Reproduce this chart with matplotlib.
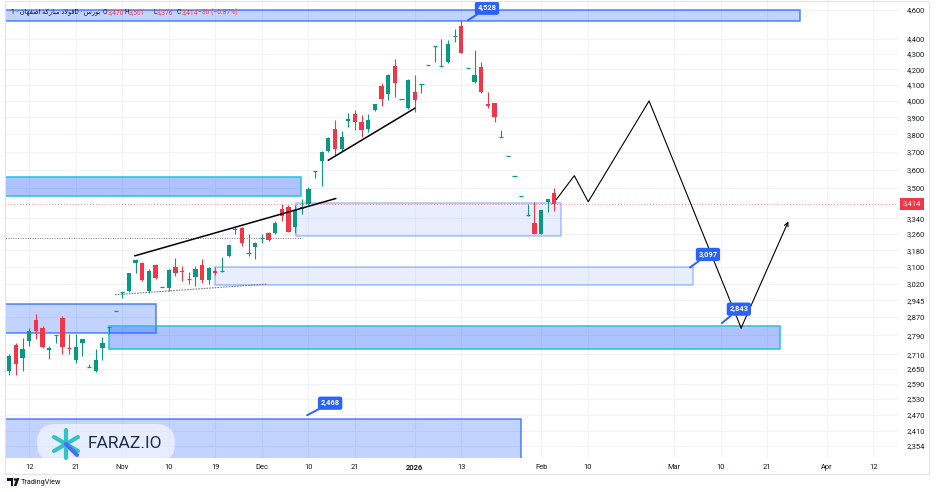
import matplotlib
matplotlib.use('Agg')
import matplotlib.pyplot as plt
import matplotlib.transforms as mtransforms
from matplotlib.patches import Rectangle, FancyBboxPatch, Polygon, Circle
from matplotlib.ticker import FixedLocator, NullLocator, NullFormatter

# daily candles (bar index = position on the time axis)
opens = [2640, 2751, 2696, 2765, 2858, 2822, 2730, 2793, 2866, 2738,
         2688, 2759, 2659, 2643, 2738, 2827, 2897, 2982, 2987, 3118,
         3118, 2987, 3110, 3005, 3001, 3100, 3082, 3042, 3051, 3108,
         3038, 3081, 3080, 3151, 3279, 3289, 3168, 3194, 3242, 3264,
         3264, 3386, 3401, 3294, 3386, 3412, 3594, 3649, 3701, 3833,
         3717, 3876, 3922, 3870, 3833, 3942, 4090, 4041, 4221, 4009,
         3955, 4053, 4103, 4228, 4350, 4219, 4247, 4420, 4488, 4210,
         4117, 4212, 3980, 3986, 3787, 3674, 3566, 3459, 3356, 3318,
         3259, 3426, 3470]
highs = [2713, 2759, 2780, 2822, 2884, 2831, 2747, 2793, 2875, 2797,
         2797, 2776, 2672, 2734, 2784, 2827, 2897, 2982, 3070, 3137,
         3122, 3089, 3113, 3005, 3089, 3142, 3103, 3075, 3103, 3137,
         3098, 3098, 3148, 3209, 3294, 3294, 3259, 3219, 3259, 3269,
         3324, 3412, 3407, 3407, 3438, 3502, 3594, 3701, 3786, 3886,
         3821, 3928, 3946, 3916, 3922, 3982, 4113, 4169, 4266, 4009,
         4138, 4164, 4103, 4228, 4350, 4402, 4395, 4469, 4528, 4210,
         4326, 4247, 4053, 3986, 3827, 3674, 3566, 3459, 3412, 3426,
         3381, 3443, 3501]
lows = [2627, 2627, 2643, 2747, 2776, 2738, 2692, 2759, 2713, 2713,
        2676, 2705, 2659, 2639, 2688, 2797, 2897, 2955, 2982, 3070,
        3033, 2978, 3042, 3005, 2987, 3056, 3033, 3019, 3010, 3024,
        3019, 3061, 3077, 3147, 3259, 3199, 3151, 3137, 3214, 3224,
        3259, 3324, 3269, 3264, 3360, 3407, 3556, 3512, 3696, 3683,
        3706, 3844, 3827, 3786, 3811, 3940, 3972, 4007, 4022, 4009,
        3952, 3932, 4047, 4228, 4247, 4219, 4243, 4380, 4304, 4210,
        4114, 4047, 3959, 3872, 3787, 3674, 3566, 3459, 3353, 3259,
        3259, 3374, 3376]
closes = [2703, 2672, 2734, 2811, 2810, 2742, 2738, 2793, 2742, 2734,
          2742, 2776, 2659, 2688, 2759, 2827, 2897, 2982, 3070, 3134,
          3038, 3080, 3047, 3005, 3086, 3070, 3077, 3038, 3089, 3038,
          3094, 3070, 3084, 3204, 3284, 3214, 3170, 3214, 3244, 3231,
          3314, 3351, 3270, 3382, 3398, 3496, 3594, 3696, 3780, 3717,
          3786, 3892, 3870, 3823, 3886, 3982, 4013, 4160, 4111, 4009,
          4130, 4007, 4103, 4228, 4350, 4221, 4367, 4420, 4304, 4210,
          4164, 4053, 3966, 3900, 3787, 3674, 3566, 3459, 3356, 3259,
          3381, 3443, 3414]

price_ticks = [4600, 4400, 4300, 4200, 4100, 4000, 3900, 3800, 3700, 3600, 3500,
               3340, 3260, 3180, 3100, 3020, 2945, 2870, 2790, 2710, 2650, 2590,
               2530, 2470, 2410, 2354]
last_price = 3414

date_pos = [3, 10, 17, 24, 31, 38, 45, 52, 61, 68, 80, 87, 100, 107, 114, 123, 130]
date_labels = ['12', '21', 'Nov', '10', '19', 'Dec', '10', '21', '2026', '13',
               'Feb', '10', 'Mar', '10', '21', 'Apr', '12']

# zones: bar from, bar to, low, high, style
zones = [
    (-1, 119.0, 4523, 4600, 'blue'),
    (-1, 43.9, 3454, 3561, 'cyan'),
    (43.1, 83.0, 3248, 3418, 'light'),
    (31.0, 102.9, 3015, 3097, 'light'),
    (-1, 22.1, 2801, 2928, 'blue'),
    (15.0, 116.0, 2734, 2831, 'cyan'),
    (-1, 77.0, 2250, 2453, 'blue'),
]

# price callouts: text, bar, price, offset px (right, up)
callouts = [('4,528', 69.0, 4528, 19, 12),
            ('3,097', 102.4, 3097, 18, 13),
            ('2,843', 107.2, 2843, 17, 14),
            ('2,468', 44.8, 2468, 23, 12)]

trend1_x, trend1_y = [18.9, 49.1], [3153, 3443]
trend2_x, trend2_y = [48.0, 61.0], [3652, 3955]
support_x, support_y = [15.9, 38.8], [2970, 3019]
level_x, level_y = [-1, 43.9], [3238, 3238]
path_x = [82.3, 85.0, 87.1, 96.25, 110.1, 117.2]
path_y = [3438, 3566, 3426, 4000, 2822, 3324]

UP, DOWN, TVBLUE, INK = '#089981', '#F23645', '#2962FF', '#131722'
W, H = 936, 492
plt.rcParams['font.family'] = ['Roboto', 'DejaVu Sans']

fig = plt.figure(figsize=(W / 100, H / 100), dpi=100)
fig.patch.set_facecolor('white')
ax = fig.add_axes([5 / W, (H - 458) / H, 893 / W, 458 / H])
ax.set_yscale('log')
ax.set_ylim(2311, 4671)
ax.set_xlim(-0.65, 133.7)

# zones
zone_style = {
    'blue': dict(fc=(0.161, 0.384, 1.0, 0.28), ec=(0.161, 0.384, 1.0, 0.8)),
    'cyan': dict(fc=(0.161, 0.384, 1.0, 0.38), ec='#22c3dc'),
    'light': dict(fc=(0.161, 0.384, 1.0, 0.10), ec=(0.161, 0.384, 1.0, 0.38)),
}
for x0, x1, lo, hi, st in zones:
    ax.add_patch(Rectangle((x0, lo), x1 - x0, hi - lo, lw=1.1, zorder=1, **zone_style[st]))

# candles
for i, (o, h, l, c) in enumerate(zip(opens, highs, lows, closes)):
    col = UP if c >= o else DOWN
    ax.vlines(i, l, h, color=col, lw=0.8, zorder=3)
    if abs(c - o) / o < 0.0015:
        ax.hlines(o, i - 0.32, i + 0.32, color=col, lw=0.9, zorder=3)
    else:
        ax.bar(i, abs(c - o), bottom=min(o, c), width=0.64, color=col, lw=0, zorder=3)

# lines
ax.axhline(last_price, color=DOWN, lw=0.7, ls=(0, (1, 2)), alpha=0.6, zorder=2)
ax.plot(level_x, level_y, color='#787b86', lw=0.7, ls=(0, (1, 1.5)), zorder=2)
ax.plot(support_x, support_y, color='#787b86', lw=0.8, ls=(0, (1.5, 1)), zorder=2)
ax.plot(trend1_x, trend1_y, color='black', lw=1.1, zorder=4)
ax.plot(trend2_x, trend2_y, color='black', lw=1.1, zorder=4)
ax.plot(path_x[:-1], path_y[:-1], color='black', lw=0.8, zorder=4)
ax.annotate('', xy=(path_x[-1], path_y[-1]), xytext=(path_x[-2], path_y[-2]),
            arrowprops=dict(arrowstyle='->', color='black', lw=0.8, mutation_scale=7,
                            shrinkA=0, shrinkB=0), zorder=4)

for txt, bx, pr, dx, dy in callouts:
    ax.annotate(txt, xy=(bx, pr), xytext=(dx * 0.72, dy * 0.72), textcoords='offset points',
                ha='center', va='center', fontsize=5.4, color='white', fontweight='bold',
                bbox=dict(boxstyle='round,pad=0.35,rounding_size=0.3', fc=TVBLUE, ec='none'),
                arrowprops=dict(arrowstyle='-', color=TVBLUE, lw=1.4, shrinkA=0, shrinkB=0),
                zorder=6)

# axes
ax.yaxis.tick_right()
ax.yaxis.set_major_locator(FixedLocator(price_ticks))
ax.yaxis.set_minor_locator(NullLocator())
ax.yaxis.set_minor_formatter(NullFormatter())
ax.set_yticklabels([f'{v:,}' for v in price_ticks])
ax.set_xticks(date_pos)
ax.set_xticklabels(date_labels)
ax.xaxis.set_minor_locator(NullLocator())
ax.tick_params(axis='y', length=0, pad=6, labelsize=5.4, labelcolor=INK)
ax.tick_params(axis='x', length=0, pad=4.5, labelsize=5.4, labelcolor=INK)
for lab in ax.get_xticklabels():
    if lab.get_text() == '2026':
        lab.set_fontweight('bold')
ax.grid(True, color='#f0f3fa', lw=0.8, zorder=0)
ax.set_axisbelow(True)
for s in ax.spines.values():
    s.set_visible(False)

blend = mtransforms.blended_transform_factory(ax.transAxes, ax.transData)
ax.text(1 + 5 / 893, last_price, f'{last_price:,}', transform=blend, ha='left', va='center',
        fontsize=5.4, color='white', clip_on=False, zorder=7,
        bbox=dict(boxstyle='square,pad=0.35', fc=DOWN, ec='none'))

# overlay in pixel coordinates for legend, watermark and footer
ov = fig.add_axes([0, 0, 1, 1], zorder=5)
ov.set_xlim(0, W)
ov.set_ylim(H, 0)
ov.axis('off')
ov.patch.set_alpha(0)

ov.add_patch(Rectangle((5, 0.5), 924, 473.5, fc='none', ec='#e0e3eb', lw=0.8))

# symbol name (Persian, laid out in display order)
esfahan = '\uFEE5\uFE8E\uFEEC\uFED4\uFEBB\uFE8D'
mobarakeh = '\uFEEA\uFB90\uFEAD\uFE8E\uFE92\uFEE3'
foolad = '\uFEA9\uFEFB\uFEEE\uFED3'
bourse = '\uFEB1\uFEAD\uFEEE\uFE91'
header = '1 \u00b7 ' + esfahan + ' ' + mobarakeh + ' ' + foolad + 'D \u00b7 ' + bourse
ov.text(11, 12.5, header, fontsize=4.8, color=INK, va='center', ha='left')
ohlc = [('O', 103, INK), ('3,470', 108, DOWN), ('H', 124.5, INK), ('3,501', 129, DOWN),
        ('L', 153, INK), ('3,376', 157, DOWN), ('C', 177, INK), ('3,414', 182, DOWN),
        ('\u221230 (\u22120.87%)', 198, DOWN)]
for t, x, c in ohlc:
    ov.text(x, 12.5, t, fontsize=4.9, color=c, va='center', ha='left')

# watermark
ov.add_patch(FancyBboxPatch((37, 424), 138, 38, boxstyle='round,pad=0,rounding_size=19',
                            fc='white', ec='none', alpha=0.6))
cx, cy = 66, 444
for dxs, dys, col in [((0, 0), (-14, 14), '#33c2c6'), ((-12, 12), (-7, 7), '#33c2c6'),
                      ((-12, 12), (7, -7), '#33c2c6'), ((0, 11), (0, 11), '#4b6cf5')]:
    ov.plot([cx + dxs[0], cx + dxs[1]], [cy + dys[0], cy + dys[1]], color=col, lw=3,
            solid_capstyle='round')
ov.text(88, 443, 'FARAZ.IO', fontsize=12.5, color='#1c2b4f', va='center', ha='left')

# footer
ov.add_patch(Polygon([(7, 478), (13, 478), (13, 486), (10.5, 486), (10.5, 480.5), (7, 480.5)],
                     closed=True, fc=INK, ec='none'))
ov.add_patch(Circle((15, 479.5), 1.3, fc=INK, ec='none'))
ov.add_patch(Polygon([(16.5, 478), (19.5, 478), (16.5, 486), (13.8, 486)], closed=True,
                     fc=INK, ec='none'))
ov.text(21, 482, 'TradingView', fontsize=5.2, color=INK, va='center', ha='left')

fig.savefig('out.png', dpi=100, facecolor='white')
